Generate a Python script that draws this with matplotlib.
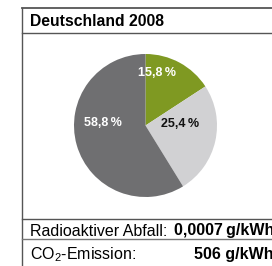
import matplotlib
matplotlib.use("Agg")
import matplotlib.pyplot as plt
from matplotlib.lines import Line2D

title = "Deutschland 2008"
shares = [15.8, 25.4, 58.8]
share_labels = ["15,8\u2009%", "25,4\u2009%", "58,8\u2009%"]
colors = ["#7f9922", "#d1d1d3", "#6f6f71"]
label_colors = ["white", "#111111", "white"]
waste_label = "Radioaktiver Abfall:"
waste_value = "0,0007\u2009g/kWh"
co2_label = "CO$_2$-Emission:"
co2_value = "506 g/kWh"

plt.rcParams["font.family"] = ["Liberation Sans", "DejaVu Sans"]
plt.rcParams["mathtext.fontset"] = "custom"
plt.rcParams["mathtext.rm"] = "Liberation Sans"

W, H = 272, 266
fig = plt.figure(figsize=(W / 100, H / 100), dpi=100)
fig.patch.set_facecolor("white")


def fx(px):
    return px / W


def fy(py):
    return 1 - py / H


def hline(py, x0=22, x1=W, lw=1.0, c="#555555"):
    fig.add_artist(Line2D([fx(x0), fx(x1)], [fy(py), fy(py)], lw=lw, color=c,
                          transform=fig.transFigure))


# frame
fig.add_artist(Line2D([fx(22), fx(22)], [fy(7.5), fy(H)], lw=1.0, color="#555555",
                      transform=fig.transFigure))
hline(7.5, lw=1.3)
hline(33)
hline(219)
hline(239, c="#777777")

fig.text(fx(30), fy(21), title, fontsize=11.3, fontweight="bold", va="center", ha="left")

# pie
cx, cy, r = 145.5, 125.5, 71.5
ax = fig.add_axes([fx(cx - r), fy(cy + r), (2 * r) / W, (2 * r) / H])
wedges, texts = ax.pie(shares, colors=colors, startangle=90, counterclock=False,
                       radius=1.0, wedgeprops=dict(linewidth=0))
ax.set_xlim(-1, 1)
ax.set_ylim(-1, 1)
ax.set_aspect("auto")
ax.axis("off")

label_pos = [(157, 73), (180, 124), (103, 123)]
for (px, py), lab, col in zip(label_pos, share_labels, label_colors):
    fig.text(fx(px), fy(py), lab, fontsize=9, fontweight="bold", color=col,
             ha="center", va="center")

fig.text(fx(30), fy(231), waste_label, fontsize=11.5, ha="left", va="center")
fig.text(fx(274), fy(231), waste_value, fontsize=11.5, fontweight="bold", ha="right", va="center")
fig.text(fx(30), fy(255), co2_label, fontsize=11.5, ha="left", va="center")
fig.text(fx(274), fy(255), co2_value, fontsize=11.5, fontweight="bold", ha="right", va="center")

fig.savefig("out.png", dpi=100, facecolor="white")
